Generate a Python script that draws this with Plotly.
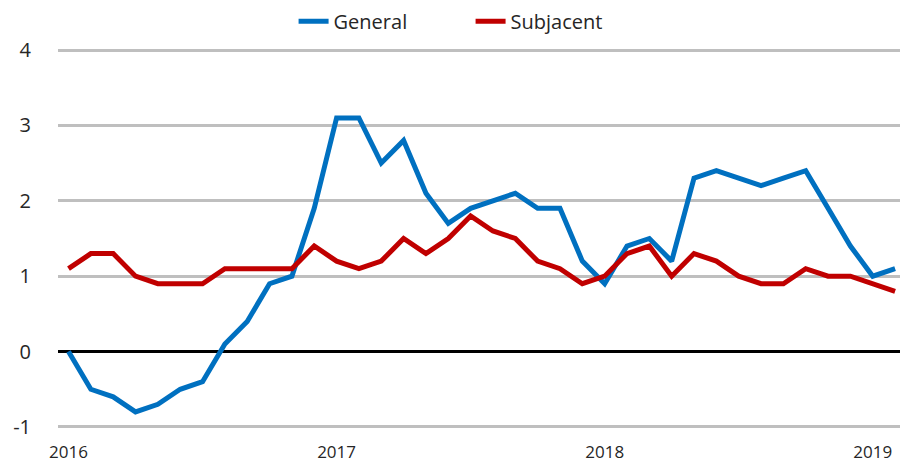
import plotly.graph_objects as go

months = [f"{y}-{m:02d}" for y in (2016, 2017, 2018) for m in range(1, 13)] + ["2019-01", "2019-02"]

general = [0.0, -0.5, -0.6, -0.8, -0.7, -0.5, -0.4, 0.1, 0.4, 0.9, 1.0, 1.9,
           3.1, 3.1, 2.5, 2.8, 2.1, 1.7, 1.9, 2.0, 2.1, 1.9, 1.9, 1.2,
           0.9, 1.4, 1.5, 1.2, 2.3, 2.4, 2.3, 2.2, 2.3, 2.4, 1.9, 1.4,
           1.0, 1.1]
subjacent = [1.1, 1.3, 1.3, 1.0, 0.9, 0.9, 0.9, 1.1, 1.1, 1.1, 1.1, 1.4,
             1.2, 1.1, 1.2, 1.5, 1.3, 1.5, 1.8, 1.6, 1.5, 1.2, 1.1, 0.9,
             1.0, 1.3, 1.4, 1.0, 1.3, 1.2, 1.0, 0.9, 0.9, 1.1, 1.0, 1.0,
             0.9, 0.8]

tick_vals = ["2016-01", "2017-01", "2018-01", "2019-01"]
tick_text = ["2016", "2017", "2018", "2019"]
y_ticks = [-1, 0, 1, 2, 3, 4]
y_tick_text = ["-1", "0", "1", "2", "3", "4"]

font = "Open Sans, Liberation Sans, sans-serif"

fig = go.Figure()
fig.add_trace(go.Scatter(x=months, y=general, mode="lines", name="General",
                         line=dict(color="#0070C0", width=5)))
fig.add_trace(go.Scatter(x=months, y=subjacent, mode="lines", name="Subjacent",
                         line=dict(color="#C00000", width=5)))

fig.update_layout(
    width=901, height=467,
    margin=dict(l=58, r=1, t=48, b=38, autoexpand=False),
    paper_bgcolor="white", plot_bgcolor="white",
    font=dict(family=font, size=18, color="#262626"),
    showlegend=True,
    legend=dict(orientation="h", x=0.49, xanchor="center", y=1.07, yanchor="middle",
                font=dict(size=20, color="#262626"), itemwidth=30,
                entrywidth=132, entrywidthmode="pixels",
                bgcolor="rgba(0,0,0,0)"),
    xaxis=dict(type="category", range=[-0.47, 37.22], tickmode="array",
               tickvals=tick_vals, ticktext=tick_text, showgrid=False,
               showline=False, zeroline=False, ticks="", automargin=False,
               tickfont=dict(size=17), ticklabelstandoff=11),
    yaxis=dict(range=[-1.027, 4.027], tickmode="array", tickvals=y_ticks,
               ticktext=y_tick_text,
               showgrid=True, gridcolor="#BFBFBF", gridwidth=2.5,
               zeroline=True, zerolinecolor="#000000", zerolinewidth=2.5,
               showline=False, ticks="", tickfont=dict(size=20), automargin=False,
               ticklabelstandoff=26),
)

fig.write_html("out.html", config={"displayModeBar": False},
               post_script="document.body.style.margin='0';")
